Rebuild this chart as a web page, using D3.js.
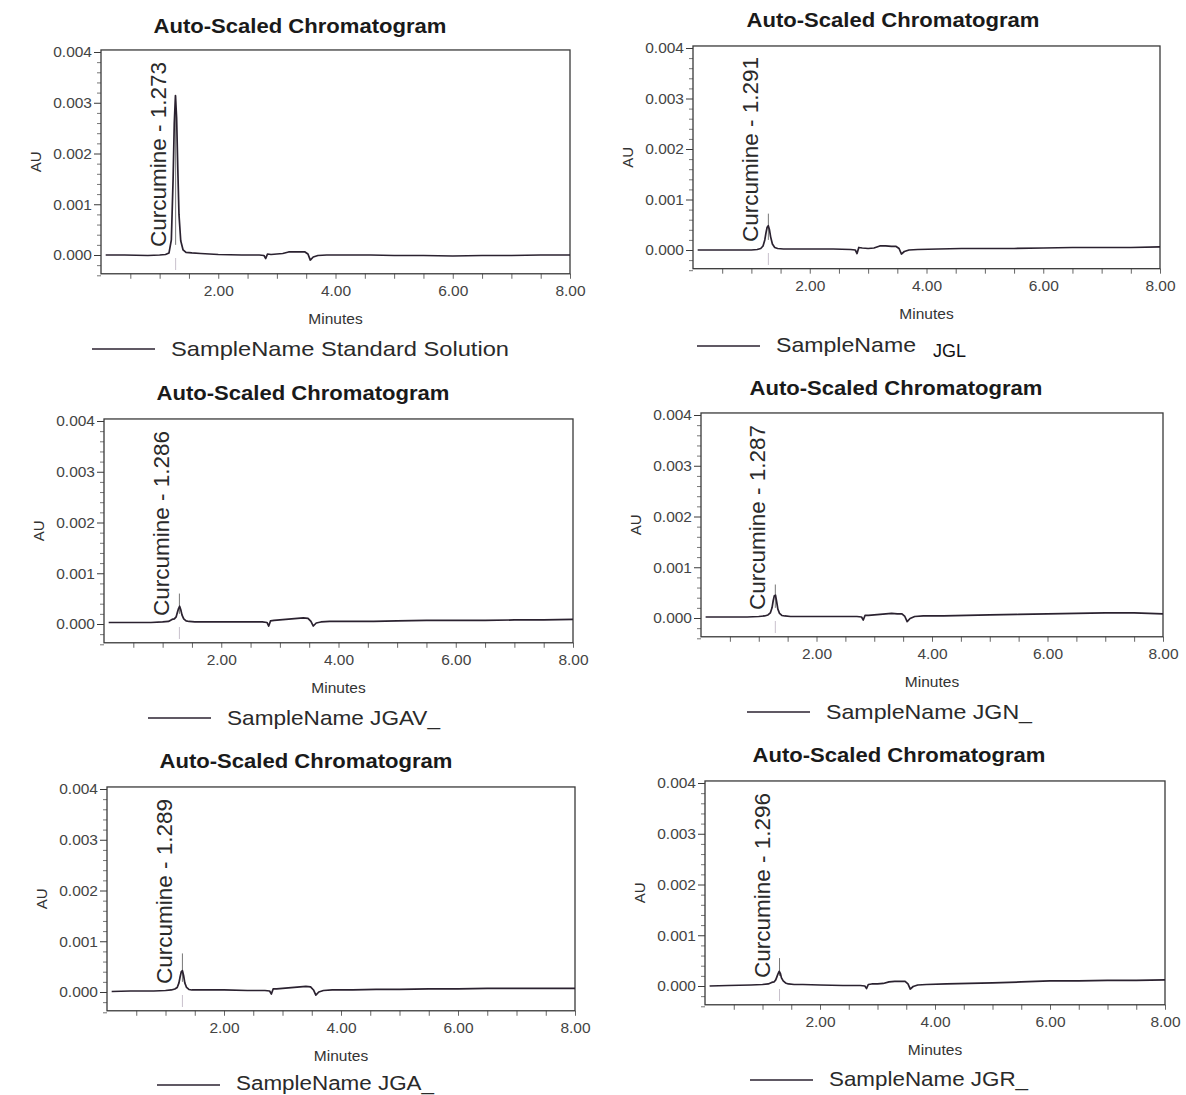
<!DOCTYPE html>
<html>
<head>
<meta charset="utf-8">
<script src="https://cdn.jsdelivr.net/npm/d3@7"></script>
<style>
  html, body { margin: 0; padding: 0; background: #fff; }
  svg { display: block; }
  text { font-family: "Liberation Sans", Arial, sans-serif; }
</style>
</head>
<body>
<svg id="chart" width="1186" height="1095"></svg>
<script>
// ---------------- DATA ----------------
const sampleNames = ["Standard Solution", "JGL", "JGAV_", "JGN_", "JGA_", "JGR_"];
const peakName = "Curcumine";
const retentionTimes = [1.273, 1.291, 1.286, 1.287, 1.289, 1.296];
const markerTops = [0.00314, 0.00072, 0.00060, 0.00066, 0.00076, 0.00055];
const yTickLabels = ["0.000", "0.001", "0.002", "0.003", "0.004"];
const xTickLabels = ["2.00", "4.00", "6.00", "8.00"];

const minutes = [0.08, 0.4, 0.8, 1.0, 1.1, 1.16, 1.2, 1.23, 1.25, 1.27, 1.29, 1.31, 1.33, 1.36, 1.4, 1.45,
  1.55, 1.7, 2.0, 2.4, 2.7, 2.78, 2.81, 2.84, 2.9, 3.0, 3.1, 3.2, 3.3, 3.4, 3.48, 3.53, 3.57, 3.62,
  3.7, 3.85, 4.2, 4.6, 5.0, 5.5, 6.0, 6.5, 7.0, 7.5, 8.0];

const auStandard = [0.00000, 0.00000, -0.00001, 0.00000, 0.00001, 0.00004, 0.00030, 0.00150, 0.00260, 0.00314,
  0.00270, 0.00170, 0.00080, 0.00028, 0.00010, 0.00005, 0.00004, 0.00003, 0.00001, 0.00000, 0.00000,
  -0.00001, -0.00007, 0.00002, 0.00001, 0.00002, 0.00003, 0.00006, 0.00006, 0.00006, 0.00006, 0.00002,
  -0.00010, -0.00004, -0.00001, 0.00000, 0.00000, 0.00000, -0.00001, -0.00001, -0.00002, -0.00001,
  -0.00001, 0.00000, 0.00000];
const auJGL = [0.00000, 0.00000, 0.00000, 0.00000, 0.00001, 0.00003, 0.00008, 0.00020, 0.00034, 0.00045,
  0.00048, 0.00040, 0.00026, 0.00012, 0.00005, 0.00003, 0.00002, 0.00002, 0.00002, 0.00002, 0.00001,
  0.00000, -0.00007, 0.00005, 0.00004, 0.00003, 0.00004, 0.00008, 0.00008, 0.00007, 0.00007, 0.00003,
  -0.00008, -0.00003, 0.00000, 0.00001, 0.00002, 0.00003, 0.00003, 0.00003, 0.00004, 0.00005,
  0.00005, 0.00005, 0.00006];
const auJGAV = [0.00003, 0.00003, 0.00003, 0.00004, 0.00005, 0.00009, 0.00010, 0.00014, 0.00022, 0.00030,
  0.00035, 0.00028, 0.00018, 0.00010, 0.00006, 0.00005, 0.00004, 0.00004, 0.00004, 0.00004, 0.00004,
  0.00003, -0.00004, 0.00006, 0.00007, 0.00008, 0.00009, 0.00010, 0.00011, 0.00012, 0.00011, 0.00005,
  -0.00004, 0.00002, 0.00004, 0.00005, 0.00005, 0.00005, 0.00006, 0.00007, 0.00007, 0.00007,
  0.00008, 0.00008, 0.00009];
const auJGN = [0.00002, 0.00002, 0.00002, 0.00003, 0.00004, 0.00006, 0.00010, 0.00020, 0.00034, 0.00044,
  0.00045, 0.00032, 0.00018, 0.00009, 0.00005, 0.00004, 0.00003, 0.00003, 0.00003, 0.00003, 0.00003,
  0.00002, -0.00004, 0.00005, 0.00005, 0.00006, 0.00007, 0.00008, 0.00009, 0.00008, 0.00008, 0.00003,
  -0.00007, -0.00001, 0.00003, 0.00004, 0.00004, 0.00005, 0.00006, 0.00007, 0.00008, 0.00009,
  0.00010, 0.00010, 0.00008];
const auJGA = [0.00001, 0.00002, 0.00002, 0.00003, 0.00004, 0.00006, 0.00009, 0.00018, 0.00030, 0.00040,
  0.00042, 0.00032, 0.00018, 0.00009, 0.00005, 0.00004, 0.00004, 0.00004, 0.00004, 0.00003, 0.00003,
  0.00002, -0.00004, 0.00006, 0.00006, 0.00007, 0.00008, 0.00009, 0.00010, 0.00011, 0.00010, 0.00004,
  -0.00006, 0.00000, 0.00003, 0.00004, 0.00004, 0.00005, 0.00005, 0.00006, 0.00006, 0.00007,
  0.00007, 0.00007, 0.00007];
const auJGR = [0.00000, 0.00001, 0.00002, 0.00003, 0.00004, 0.00007, 0.00008, 0.00012, 0.00018, 0.00024,
  0.00029, 0.00025, 0.00016, 0.00010, 0.00006, 0.00004, 0.00003, 0.00003, 0.00002, 0.00001, 0.00001,
  0.00000, -0.00005, 0.00003, 0.00004, 0.00004, 0.00005, 0.00008, 0.00009, 0.00009, 0.00009, 0.00004,
  -0.00006, -0.00001, 0.00002, 0.00003, 0.00004, 0.00005, 0.00006, 0.00008, 0.00010, 0.00010,
  0.00011, 0.00011, 0.00012];

const seriesValues = [auStandard, auJGL, auJGAV, auJGN, auJGA, auJGR];

// ---------------- LAYOUT ----------------
// x0: pixel of 0 min, x8: pixel of 8 min, yZ: pixel of 0.000 AU, y4: pixel of 0.004 AU
const layout = [
  { x0: 101, x8: 570, yZ: 255, y4: 52,  titleX: 300, titleY: 33,  legY: 349, legX: 92,  legDy: 7 },
  { x0: 693, x8: 1160, yZ: 250, y4: 48, titleX: 893, titleY: 27,  legY: 346, legX: 697, legDy: 6 },
  { x0: 104, x8: 573, yZ: 624, y4: 421, titleX: 303, titleY: 400, legY: 718, legX: 148, legDy: 7 },
  { x0: 701, x8: 1163, yZ: 618, y4: 415, titleX: 896, titleY: 395, legY: 712, legX: 747, legDy: 7 },
  { x0: 107, x8: 575, yZ: 992, y4: 789, titleX: 306, titleY: 768, legY: 1085, legX: 157, legDy: 5 },
  { x0: 705, x8: 1165, yZ: 986, y4: 783, titleX: 899, titleY: 762, legY: 1080, legX: 750, legDy: 6 }
];
const legendTextWidths = [338, null, 213, 206, 198, 199];

const svg = d3.select("#chart");
const ink = "#2b2230";
const axisInk = "#3a3a3a";

const yMajor = yTickLabels.map(Number);
const yMinor = d3.range(-2, 21).map(i => i * 0.0002).filter(v => !yMajor.some(m => Math.abs(m - v) < 1e-9));
const xTicksAll = d3.range(1, 17).map(i => i * 0.5);
const xMajor = xTickLabels.map(Number);

layout.forEach((L, idx) => {
  const g = svg.append("g");
  const x = d3.scaleLinear().domain([0, 8]).range([L.x0, L.x8]);
  const y = d3.scaleLinear().domain([0, 0.004]).range([L.yZ, L.y4]);
  const yTopV = 0.00404, yBotV = -0.00037;
  const bx = x(0), bw = x(8) - x(0), by = y(yTopV), bh = y(yBotV) - y(yTopV);

  // title
  g.append("text")
    .attr("x", L.titleX).attr("y", L.titleY)
    .attr("text-anchor", "middle")
    .attr("font-weight", "bold").attr("font-size", 20.5)
    .attr("fill", "#1a1a1a")
    .attr("textLength", 293).attr("lengthAdjust", "spacingAndGlyphs")
    .text("Auto-Scaled Chromatogram");

  // y axis ticks
  const yAxis = d3.axisLeft(y).tickValues(yMajor).tickFormat((d, i) => yTickLabels[i]).tickSize(7).tickPadding(2);
  const ya = g.append("g").attr("transform", `translate(${bx},0)`).call(yAxis);
  ya.select(".domain").remove();
  ya.selectAll("line").attr("stroke", axisInk);
  ya.selectAll("text").attr("font-size", 15.5).attr("fill", "#444").attr("font-family", "Liberation Sans, Arial, sans-serif");
  const yAxisMinor = d3.axisLeft(y).tickValues(yMinor).tickFormat("").tickSize(4);
  const ym = g.append("g").attr("transform", `translate(${bx},0)`).call(yAxisMinor);
  ym.select(".domain").remove();
  ym.selectAll("line").attr("stroke", "#777");

  // x axis ticks
  const xAxis = d3.axisBottom(x).tickValues(xTicksAll)
    .tickFormat(d => { const k = xMajor.indexOf(d); return k >= 0 ? xTickLabels[k] : ""; })
    .tickSize(5).tickPadding(6);
  const xa = g.append("g").attr("transform", `translate(0,${by + bh})`).call(xAxis);
  xa.select(".domain").remove();
  xa.selectAll("line").attr("stroke", "#666");
  xa.selectAll("text").attr("font-size", 15.5).attr("fill", "#444").attr("font-family", "Liberation Sans, Arial, sans-serif");

  // box
  g.append("rect").attr("x", bx).attr("y", by).attr("width", bw).attr("height", bh)
    .attr("fill", "none").attr("stroke", axisInk).attr("stroke-width", 1.3);

  // axis titles
  g.append("text")
    .attr("transform", `translate(${bx - 60},${by + bh / 2}) rotate(-90)`)
    .attr("text-anchor", "middle").attr("font-size", 15).attr("fill", "#333")
    .text("AU");
  g.append("text")
    .attr("x", x(4)).attr("y", by + bh + 50)
    .attr("text-anchor", "middle").attr("font-size", 15.5).attr("fill", "#333")
    .text("Minutes");

  // peak markers
  const rt = retentionTimes[idx];
  g.append("line")
    .attr("x1", x(rt)).attr("x2", x(rt))
    .attr("y1", y(0) + 3).attr("y2", y(0) + 15)
    .attr("stroke", "#c8c0cc").attr("stroke-width", 1);
  g.append("line")
    .attr("x1", x(rt)).attr("x2", x(rt))
    .attr("y1", y(0.0002)).attr("y2", y(markerTops[idx]))
    .attr("stroke", "#777").attr("stroke-width", 1);

  // trace
  const pts = minutes.map((t, i) => [t, seriesValues[idx][i]]);
  const line = d3.line().x(d => x(d[0])).y(d => y(d[1]));
  g.append("path").datum(pts)
    .attr("d", line).attr("fill", "none")
    .attr("stroke", ink).attr("stroke-width", 1.7).attr("stroke-linejoin", "round");

  // peak label
  g.append("text")
    .attr("transform", `translate(${x(rt) - 10},${y(0) - 8}) rotate(-90)`)
    .attr("font-size", 22).attr("fill", "#2a2a2a")
    .attr("textLength", 185).attr("lengthAdjust", "spacingAndGlyphs")
    .text(`${peakName} - ${rt.toFixed(3)}`);

  // legend
  g.append("line")
    .attr("x1", L.legX).attr("x2", L.legX + 63)
    .attr("y1", L.legY).attr("y2", L.legY)
    .attr("stroke", ink).attr("stroke-width", 1.3);
  if (idx === 1) {
    g.append("text")
      .attr("x", L.legX + 79).attr("y", L.legY + L.legDy)
      .attr("font-size", 21).attr("fill", "#2a2a2a")
      .attr("textLength", 140).attr("lengthAdjust", "spacingAndGlyphs")
      .text("SampleName");
    g.append("text")
      .attr("x", L.legX + 236).attr("y", L.legY + 11)
      .attr("font-size", 18).attr("fill", "#111")
      .attr("font-family", "Lato, 'Open Sans', sans-serif")
      .text(sampleNames[idx]);
  } else {
    g.append("text")
      .attr("x", L.legX + 79).attr("y", L.legY + L.legDy)
      .attr("font-size", idx === 4 ? 20 : 21).attr("fill", "#2a2a2a")
      .attr("textLength", legendTextWidths[idx]).attr("lengthAdjust", "spacingAndGlyphs")
      .text(`SampleName ${sampleNames[idx]}`);
  }
});
</script>
</body>
</html>
